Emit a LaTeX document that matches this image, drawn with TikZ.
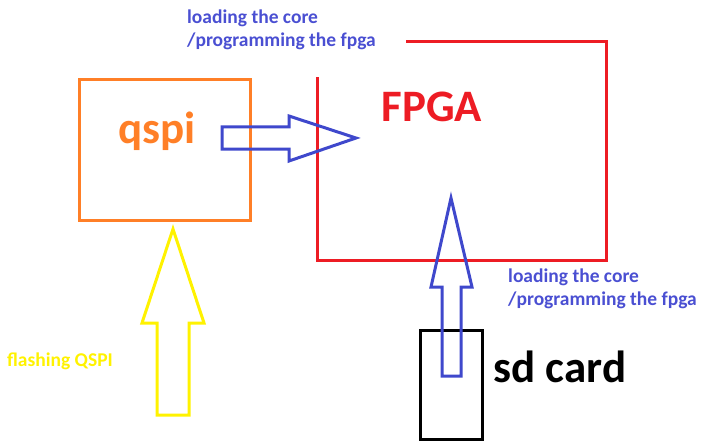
\documentclass[tikz,border=0pt]{standalone}
\usepackage{fontspec}
\setmainfont{Carlito}
\usepackage{xcolor}
\usetikzlibrary{calc}
\definecolor{pred}{HTML}{ED1C24}
\definecolor{porange}{HTML}{FF7F27}
\definecolor{pblue}{HTML}{3F48CC}
\definecolor{plabel}{HTML}{4A4FD2}
\definecolor{pyellow}{HTML}{FFF200}
\begin{document}
\begin{tikzpicture}[
 x=1pt,y=-1pt,
 every node/.style={inner sep=0pt,font=\bfseries},
 bigtxt/.style={font=\fontsize{45}{50}\selectfont\bfseries},
 lbltxt/.style={font=\fontsize{19.5}{23}\selectfont\bfseries,align=left,text=plabel},
 qbox/.style={draw=porange,line width=3pt,minimum width=171pt,minimum height=140pt},
 sdbox/.style={draw=black,line width=3pt,minimum width=62pt,minimum height=109pt},
 fpgaline/.style={draw=pred,line width=3pt},
 fatarrow/.style={line width=3pt,line join=miter}]
\useasboundingbox (0,0) rectangle (701,441);
\node[qbox] (qspi) at (164.5,150) {};
\node[bigtxt,text=porange,anchor=base] (qspitxt) at (157,143) {qspi};
\draw[fpgaline] (406,42) -- (606,42) -- (606,260) -- (317,260) -- (317,77);
\node[bigtxt,text=pred] (fpga) at (432,107) {FPGA};
\node[sdbox,anchor=north] (sd) at (451,329) {};
\node[bigtxt,text=black,anchor=base] (sdtxt) at (560,382) {sd card};
\node[lbltxt,anchor=west] (toplbl) at (187,30) {loading the core\\/programming the fpga};
\node[lbltxt,anchor=west] (sdlbl) at (508,289) {loading the core\\/programming the fpga};
\node[font=\fontsize{19.5}{23}\selectfont\bfseries,text=pyellow,anchor=base] (flash) at (60,366) {flashing QSPI};
\coordinate (qtail) at (222,138);
\coordinate (sdtail) at (451.5,376);
\coordinate (ytail) at (173,415);
\draw[fatarrow,draw=pblue] (qtail) ++(0,-11) -- ++(67,0) -- ++(0,-11) -- ++(67,22) -- ++(-67,23) -- ++(0,-12) -- ++(-67,0) -- cycle;
\draw[fatarrow,draw=pblue] (sdtail) ++(-9.5,0) -- ++(0,-89) -- ++(-11,0) -- ++(20,-89) -- ++(21,89) -- ++(-11,0) -- ++(0,89) -- cycle;
\draw[fatarrow,draw=pyellow] (ytail) ++(-16,0) -- ++(0,-92) -- ++(-15,0) -- ++(31,-94) -- ++(31,94) -- ++(-15,0) -- ++(0,92) -- cycle;
\end{tikzpicture}
\end{document}
